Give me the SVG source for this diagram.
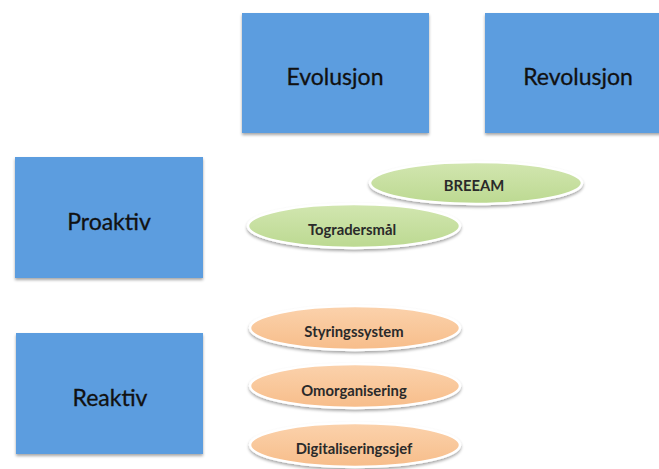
<svg xmlns="http://www.w3.org/2000/svg" width="659" height="469" viewBox="0 0 659 469">
  <defs>
    <filter id="shadow" x="-10%" y="-10%" width="120%" height="130%">
      <feDropShadow dx="0" dy="2" stdDeviation="1.5" flood-color="#000" flood-opacity="0.35"/>
    </filter>
    <linearGradient id="green" x1="0" y1="0" x2="0" y2="1">
      <stop offset="0" stop-color="#d2e6b0"/>
      <stop offset="1" stop-color="#bcd991"/>
    </linearGradient>
    <linearGradient id="orange" x1="0" y1="0" x2="0" y2="1">
      <stop offset="0" stop-color="#fbd2ac"/>
      <stop offset="1" stop-color="#f7bd8a"/>
    </linearGradient>
  </defs>
  <style>
    .box { fill: #5c9ddf; filter: url(#shadow); }
    .big { font-family: Lato, "Open Sans", sans-serif; font-size: 23px; fill: #111111; stroke: #111111; stroke-width: 0.3; text-anchor: middle; dominant-baseline: central; }
    .oval { stroke: #ffffff; stroke-width: 2.5; filter: url(#shadow); }
    .g { fill: url(#green); }
    .o { fill: url(#orange); }
    .small { font-family: Lato, "Open Sans", sans-serif; font-size: 14.8px; font-weight: bold; fill: #2a2a2a; text-anchor: middle; dominant-baseline: central; }
  </style>
  <rect width="659" height="469" fill="#ffffff"/>

  <g id="evolusjon">
    <rect class="box" x="242" y="13" width="187" height="120"/>
    <text class="big" x="335" y="76">Evolusjon</text>
  </g>
  <g id="revolusjon">
    <rect class="box" x="485" y="13" width="180" height="120"/>
    <text class="big" x="578" y="76">Revolusjon</text>
  </g>
  <g id="proaktiv">
    <rect class="box" x="15" y="157" width="188" height="121"/>
    <text class="big" x="109" y="221">Proaktiv</text>
  </g>
  <g id="reaktiv">
    <rect class="box" x="16" y="333" width="187" height="121"/>
    <text class="big" x="110" y="397">Reaktiv</text>
  </g>

  <g id="breeam">
    <ellipse class="oval g" cx="476" cy="183" rx="106" ry="21"/>
    <text class="small" x="474" y="185">BREEAM</text>
  </g>
  <g id="togradersmal">
    <ellipse class="oval g" cx="354" cy="226" rx="106" ry="22"/>
    <text class="small" x="352" y="229">Togradersmål</text>
  </g>
  <g id="styringssystem">
    <ellipse class="oval o" cx="355" cy="328" rx="105" ry="22"/>
    <text class="small" x="354" y="331">Styringssystem</text>
  </g>
  <g id="omorganisering">
    <ellipse class="oval o" cx="355" cy="386" rx="105" ry="22"/>
    <text class="small" x="354" y="390">Omorganisering</text>
  </g>
  <g id="digitaliseringssjef">
    <ellipse class="oval o" cx="355" cy="445" rx="105" ry="22"/>
    <text class="small" x="354" y="448">Digitaliseringssjef</text>
  </g>

  <g id="connectors"/>
</svg>
